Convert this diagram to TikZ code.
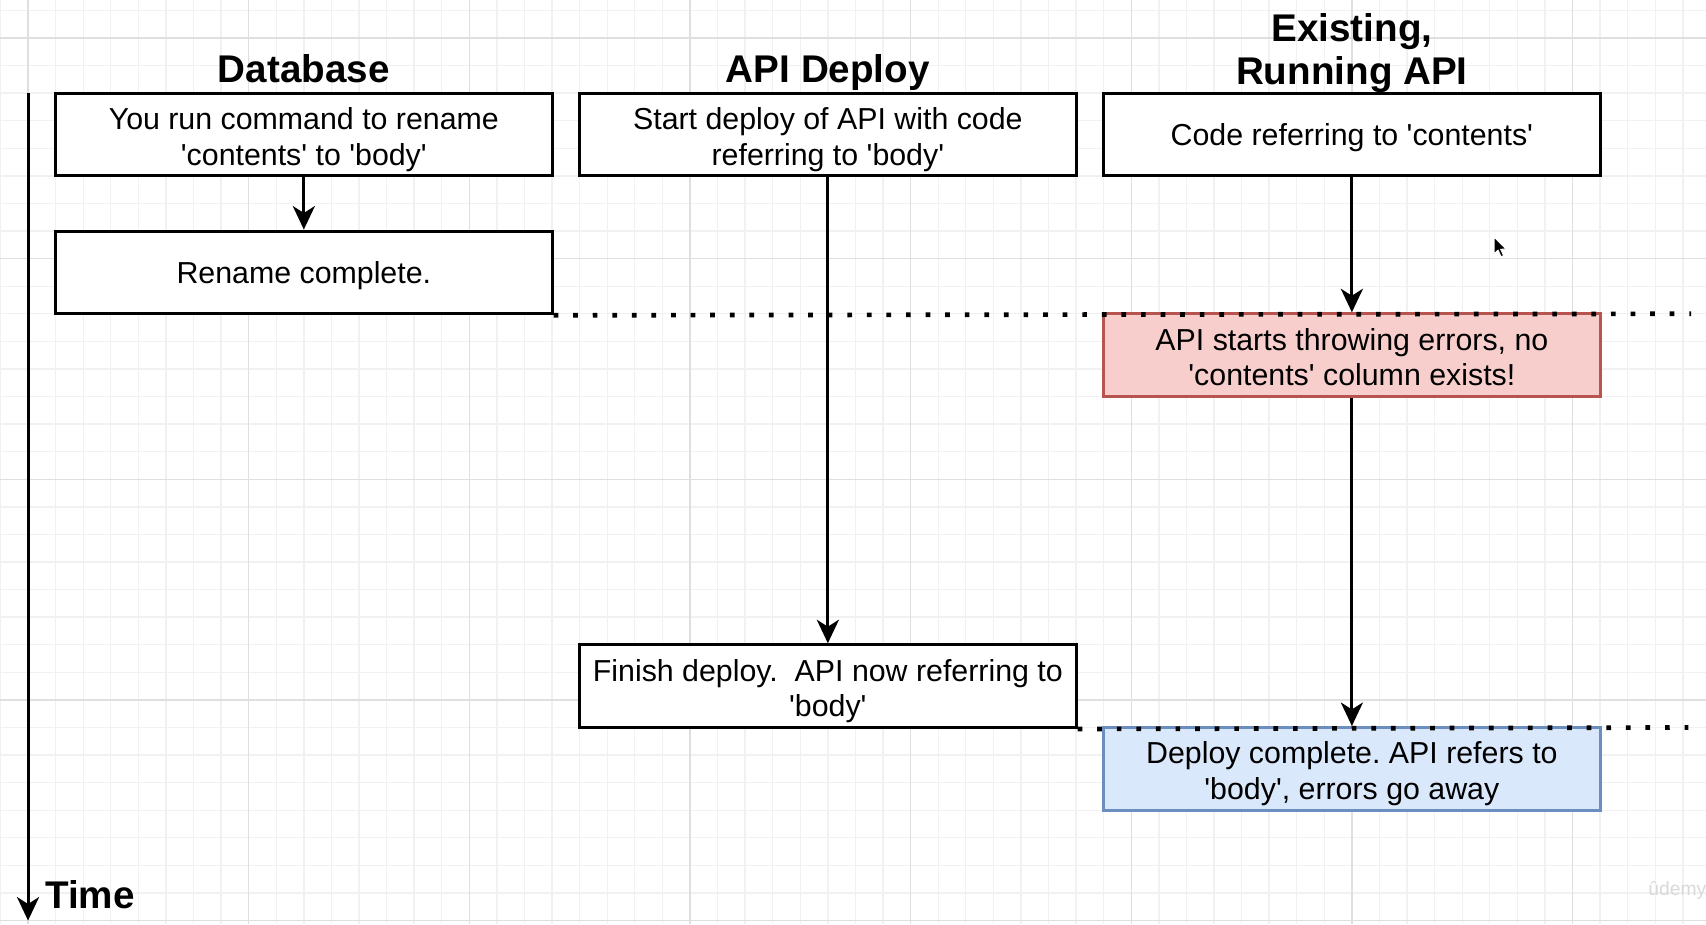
\documentclass[tikz,border=0pt]{standalone}
\usepackage{fontspec}
\setmainfont{Liberation Sans}[Ligatures=TeXOff]
\usepackage{tikz}
\usetikzlibrary{arrows.meta}
\frenchspacing

\definecolor{errfill}{HTML}{F8CECC}
\definecolor{errline}{HTML}{B85450}
\definecolor{okfill}{HTML}{DAE8FC}
\definecolor{okline}{HTML}{6C8EBF}
\definecolor{gridminor}{HTML}{F1F1F1}
\definecolor{gridmajor}{HTML}{DFDFDF}

\begin{document}
\begin{tikzpicture}[x=1pt, y=-1pt,
    box/.style={draw, fill=white, line width=1.1pt, minimum width=180pt, minimum height=30pt,
      inner sep=0pt, align=center, font=\fontsize{11}{13}\selectfont,
      text height=10.4pt, text depth=2.3pt},
    twoline/.style={text height=24.6pt},
    hdr/.style={align=center, inner sep=0pt, font=\bfseries\fontsize{14}{15.6}\selectfont},
    flow/.style={line width=1.1pt, -{Stealth[length=8.5pt, width=8pt, inset=2.5pt]}},
    dots/.style={line width=1.7pt, dash pattern=on 1.7pt off 5.4pt}]
    \useasboundingbox (-10.17,-13.77) rectangle (608.4,321.3);
    % grid
    \foreach \gx in {-10,0,...,600}
        \draw[gridminor, line width=0.5pt] (\gx,-13.77) -- (\gx,321.3);
    \foreach \gy in {-10,0,...,320}
        \draw[gridminor, line width=0.5pt] (-10.17,\gy) -- (608.4,\gy);
    \foreach \gx in {0,80,...,560}
        \draw[gridmajor, line width=0.5pt] (\gx,-13.77) -- (\gx,321.3);
    \foreach \gy in {0,80,...,320}
        \draw[gridmajor, line width=0.5pt] (-10.17,\gy) -- (608.4,\gy);

    % column headers
    \node at (100,16.2) [hdr, anchor=base] (hdb) {Database};
    \node at (290,16.2) [hdr, anchor=base] (hapi) {API Deploy};
    \node at (480,5.6) [hdr] (hrun) {Existing,\\Running API};

    % boxes
    \node at (100,35) [box, twoline] (db1) {You run command to rename\\'contents' to 'body'};
    \node at (100,85) [box] (db2) {Rename complete.};
    \node at (290,35) [box, twoline] (api1) {Start deploy of API with code\\referring to 'body'};
    \node at (290,235) [box, twoline] (api2) {Finish deploy.\ \ API now referring to\\'body'};
    \node at (480,35) [box] (run1) {Code referring to 'contents'};
    \node at (480,115) [box, twoline, fill=errfill, draw=errline] (run2) {API starts throwing errors, no\\'contents' column exists!};
    \node at (480,265) [box, twoline, fill=okfill, draw=okline] (run3) {Deploy complete. API refers to\\'body', errors go away};

    \draw[flow] (db1.south) -- (db2.north);
    \draw[flow] (api1.south) -- (api2.north);
    \draw[flow] (run1.south) -- (run2.north);
    \draw[flow] (run2.south) -- (run3.north);

    % time lines
    \coordinate (mark1) at (603,100);
    \coordinate (mark2) at (602,250);
    \draw[dots] (db2.south east) -- (mark1);
    \draw[dots] (api2.south east) -- (mark2);

    % time axis
    \coordinate (ttop) at (0,20);
    \coordinate (tend) at (0,320);
    \draw[flow] (ttop) -- (tend);
    \node at (6,315.5) [hdr, anchor=base west] (tlbl) {Time};

    % mouse pointer
    \filldraw[black, draw=white, line width=0.3pt] (531.6,72.2) -- ++(0,6) -- ++(1.4,-1.3)
        -- ++(1.1,2.4) -- ++(0.9,-0.4) -- ++(-1.1,-2.3) -- ++(1.9,-0.1) -- cycle;
    % watermark
    \node at (598,309) [text=gray!30, font=\fontsize{7}{8}\selectfont] (wm) {ûdemy};
\end{tikzpicture}
\end{document}
